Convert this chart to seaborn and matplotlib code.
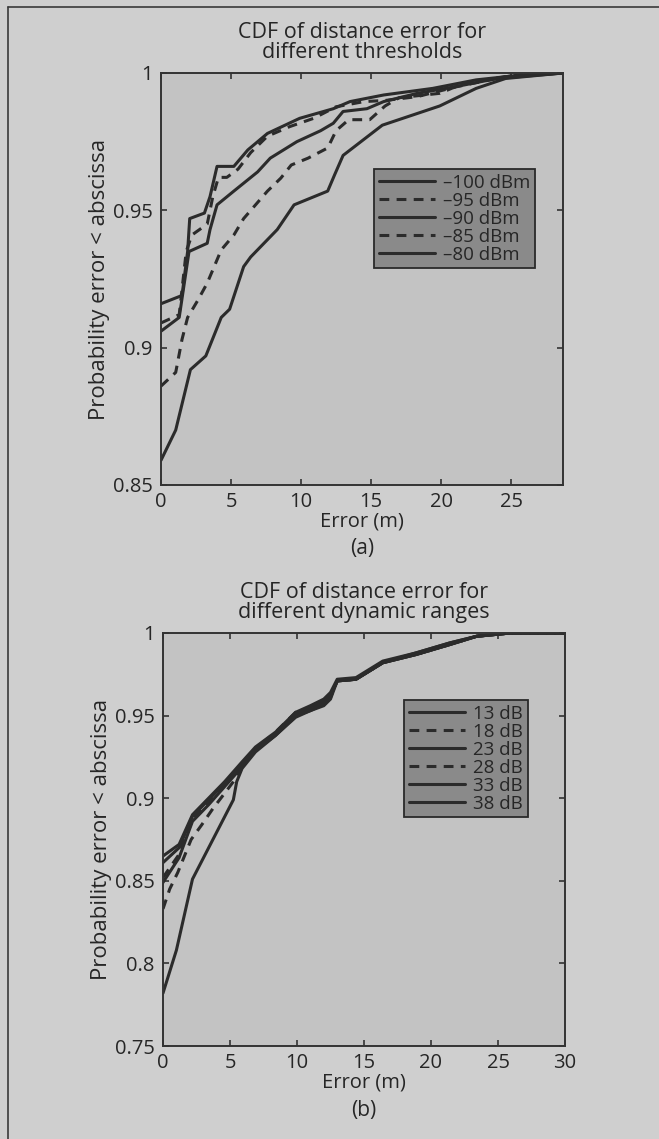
import matplotlib
matplotlib.use("Agg")
import matplotlib.pyplot as plt
import seaborn as sns
import numpy as np
import pandas as pd
from matplotlib.lines import Line2D

# ---------------- data: panel (a) thresholds ----------------
labels_a = ["\u2013100 dBm", "\u201395 dBm", "\u201390 dBm", "\u201385 dBm", "\u201380 dBm"]
styles_a = ["solid", "dashed", "solid", "dashed", "solid"]

x_m100 = [0, 1.5, 1.9, 2.05, 3.1, 3.5, 4.0, 5.2, 6.2, 7.6, 9.9, 12.3, 13.5, 15.9, 19.4, 22.5, 24.7, 28.7]
y_m100 = [0.916, 0.919, 0.935, 0.947, 0.949, 0.955, 0.966, 0.966, 0.972, 0.978, 0.9835, 0.987, 0.9896, 0.992, 0.9944, 0.9975, 0.9987, 1.0]

x_m95 = [0, 1.3, 1.8, 2.2, 3.3, 3.7, 4.1, 4.7, 5.5, 6.4, 7.6, 9.2, 10.9, 12.5, 14.5, 16.0, 18.3, 21.1, 23.0, 25.0, 28.7]
y_m95 = [0.909, 0.912, 0.935, 0.941, 0.945, 0.955, 0.962, 0.962, 0.965, 0.971, 0.977, 0.9805, 0.9835, 0.9877, 0.9896, 0.990, 0.9914, 0.995, 0.997, 0.999, 1.0]

x_m90 = [0, 1.3, 2.0, 3.3, 3.5, 4.0, 5.2, 6.9, 7.8, 9.7, 11.4, 12.3, 13.0, 14.7, 15.9, 18.3, 21.0, 24.0, 28.7]
y_m90 = [0.906, 0.911, 0.935, 0.938, 0.943, 0.952, 0.957, 0.964, 0.969, 0.975, 0.979, 0.9817, 0.986, 0.987, 0.9896, 0.9926, 0.995, 0.998, 1.0]

x_m85 = [0, 1.05, 1.5, 1.9, 2.6, 3.3, 4.3, 5.2, 5.9, 7.6, 8.55, 9.3, 10.5, 11.9, 12.5, 13.4, 14.9, 16.0, 17.0, 19.9, 21.3, 23.2, 25.0, 28.7]
y_m85 = [0.886, 0.891, 0.903, 0.911, 0.917, 0.9235, 0.9356, 0.941, 0.947, 0.957, 0.9617, 0.9665, 0.969, 0.9727, 0.979, 0.983, 0.983, 0.988, 0.991, 0.9926, 0.9956, 0.9975, 0.999, 1.0]

x_m80 = [0, 1.05, 2.1, 3.2, 4.3, 4.9, 5.9, 6.4, 8.3, 9.5, 11.9, 12.4, 13.0, 15.8, 19.9, 22.5, 24.6, 28.7]
y_m80 = [0.859, 0.870, 0.892, 0.897, 0.911, 0.914, 0.9295, 0.933, 0.943, 0.952, 0.957, 0.963, 0.970, 0.981, 0.988, 0.9944, 0.998, 1.0]

# ---------------- data: panel (b) dynamic ranges ----------------
labels_b = ["13 dB", "18 dB", "23 dB", "28 dB", "33 dB", "38 dB"]
styles_b = ["solid", "dashed", "solid", "dashed", "solid", "solid"]

x_13 = [0, 1.0, 2.2, 5.25, 5.5, 5.9, 6.9, 8.4, 9.9, 11.0, 12.0, 12.5, 13.0, 14.4, 16.4, 18.9, 21.4, 23.4, 25.9, 30]
y_13 = [0.782, 0.808, 0.851, 0.899, 0.910, 0.918, 0.928, 0.938, 0.949, 0.953, 0.956, 0.960, 0.971, 0.972, 0.982, 0.987, 0.993, 0.998, 1.0, 1.0]

x_18 = [0, 0.5, 1.1, 2.1, 2.9, 3.75, 4.6, 5.25, 5.9, 6.9, 8.4, 9.9, 11.0, 12.0, 12.5, 13.0, 14.4, 16.4, 18.9, 21.4, 23.4, 25.9, 30]
y_18 = [0.833, 0.845, 0.855, 0.875, 0.884, 0.894, 0.903, 0.910, 0.919, 0.929, 0.939, 0.950, 0.954, 0.957, 0.961, 0.971, 0.972, 0.982, 0.987, 0.993, 0.998, 1.0, 1.0]

x_up = [0, 1.2, 2.2, 3.4, 4.6, 5.9, 6.9, 8.4, 9.9, 11.0, 12.0, 12.5, 13.0, 14.4, 16.4, 18.9, 21.4, 23.4, 25.9, 30]
y_23 = [0.849, 0.864, 0.886, 0.896, 0.907, 0.919, 0.929, 0.938, 0.950, 0.953, 0.957, 0.962, 0.971, 0.972, 0.982, 0.987, 0.993, 0.998, 1.0, 1.0]
y_28 = [0.852, 0.866, 0.887, 0.897, 0.908, 0.920, 0.930, 0.940, 0.952, 0.954, 0.958, 0.962, 0.971, 0.972, 0.982, 0.987, 0.993, 0.998, 1.0, 1.0]
y_33 = [0.861, 0.870, 0.889, 0.899, 0.909, 0.921, 0.930, 0.939, 0.951, 0.955, 0.959, 0.963, 0.971, 0.972, 0.982, 0.988, 0.994, 0.998, 1.0, 1.0]
y_38 = [0.865, 0.872, 0.890, 0.900, 0.910, 0.922, 0.931, 0.940, 0.952, 0.956, 0.960, 0.964, 0.972, 0.973, 0.983, 0.988, 0.994, 0.998, 1.0, 1.0]

xticks_a = [0, 5, 10, 15, 20, 25]
yticks_a = [0.85, 0.9, 0.95, 1.0]
yticklabels_a = ["0.85", "0.9", "0.95", "1"]
xticks_b = [0, 5, 10, 15, 20, 25, 30]
yticks_b = [0.75, 0.8, 0.85, 0.9, 0.95, 1.0]
yticklabels_b = ["0.75", "0.8", "0.85", "0.9", "0.95", "1"]

# ---------------- style ----------------
sns.set_theme(style="ticks")
FONT = ["Open Sans", "DejaVu Sans"]
plt.rcParams["font.family"] = FONT
TXT = "#262626"
LINE = "#2b2b2b"
FIG_BG = "#cfcfcf"
AX_BG = "#c3c3c3"
LEG_BG = "#8a8a8a"

W, H = 659, 1139
fig = plt.figure(figsize=(W / 100, H / 100), dpi=100, facecolor=FIG_BG)

# outer frame of the printed figure
fig.add_artist(Line2D([8 / W, 8 / W], [0, 1 - 7 / H], transform=fig.transFigure, color="#3a3a3a", lw=1.2))
fig.add_artist(Line2D([8 / W, 1], [1 - 7 / H, 1 - 7 / H], transform=fig.transFigure, color="#3a3a3a", lw=1.2))


def px_axes(l, t, r, b):
    return fig.add_axes([l / W, 1 - b / H, (r - l) / W, (b - t) / H])


ax_a = px_axes(161, 73, 563, 485)
ax_b = px_axes(163, 633, 565, 1046)

DASH = (3.2, 2.4)
LW = 2.2

series_a = [(x_m100, y_m100), (x_m95, y_m95), (x_m90, y_m90), (x_m85, y_m85), (x_m80, y_m80)]
for (xs, ys), lab, st in zip(series_a, labels_a, styles_a):
    df = pd.DataFrame({"Error (m)": xs, "p": ys})
    sns.lineplot(data=df, x="Error (m)", y="p", ax=ax_a, color=LINE, lw=LW, label=lab,
                 estimator=None, sort=False)
    if st == "dashed":
        ax_a.get_lines()[-1].set_dashes(DASH)

series_b = [(x_13, y_13), (x_18, y_18), (x_up, y_23), (x_up, y_28), (x_up, y_33), (x_up, y_38)]
for (xs, ys), lab, st in zip(series_b, labels_b, styles_b):
    df = pd.DataFrame({"Error (m)": xs, "p": ys})
    sns.lineplot(data=df, x="Error (m)", y="p", ax=ax_b, color=LINE, lw=LW, label=lab,
                 estimator=None, sort=False)
    if st == "dashed":
        ax_b.get_lines()[-1].set_dashes(DASH)


def style_axes(ax, xlim, ylim, xt, yt, ytl, leg_anchor, title, letter):
    ax.set_facecolor(AX_BG)
    ax.set_xlim(*xlim)
    ax.set_ylim(*ylim)
    ax.set_xticks(xt)
    ax.set_xticklabels([str(v) for v in xt])
    ax.set_yticks(yt)
    ax.set_yticklabels(ytl)
    for s in ax.spines.values():
        s.set_visible(True)
        s.set_color("#333333")
        s.set_linewidth(1.4)
    ax.tick_params(direction="in", length=4.5, width=1.2, colors="#333333",
                   top=True, right=True, labelsize=14.5, labelcolor=TXT, pad=5)
    ax.tick_params(axis="y", pad=6)
    ax.set_xlabel("Error (m)", fontsize=14.5, color=TXT, labelpad=0)
    ax.set_ylabel("Probability error < abscissa", fontsize=16, color=TXT, labelpad=2)
    ax.set_title(title, fontsize=15.5, color=TXT, linespacing=0.95, pad=11)
    leg = ax.legend(loc="upper left", bbox_to_anchor=leg_anchor, frameon=True, fancybox=False,
                    fontsize=13.5, handlelength=3.0, handletextpad=0.45, labelspacing=0.0,
                    borderpad=0.25, borderaxespad=0.0, labelcolor=TXT)
    fr = leg.get_frame()
    fr.set_facecolor(LEG_BG)
    fr.set_edgecolor("#2a2a2a")
    fr.set_linewidth(1.3)
    fr.set_alpha(1)
    ax.text(0.5, -0.155, letter, transform=ax.transAxes, ha="center", va="center",
            fontsize=15, color=TXT)


style_axes(ax_a, (0, 28.7), (0.85, 1.0), xticks_a, yticks_a, yticklabels_a,
           ((374 - 161) / 402, 1 - (169 - 73) / 412),
           "CDF of distance error for\ndifferent thresholds", "(a)")
style_axes(ax_b, (0, 30), (0.75, 1.0), xticks_b, yticks_b, yticklabels_b,
           ((404 - 163) / 402, 1 - (700 - 633) / 413),
           "CDF of distance error for\ndifferent dynamic ranges", "(b)")

fig.savefig("out.png", dpi=100, facecolor=FIG_BG)
